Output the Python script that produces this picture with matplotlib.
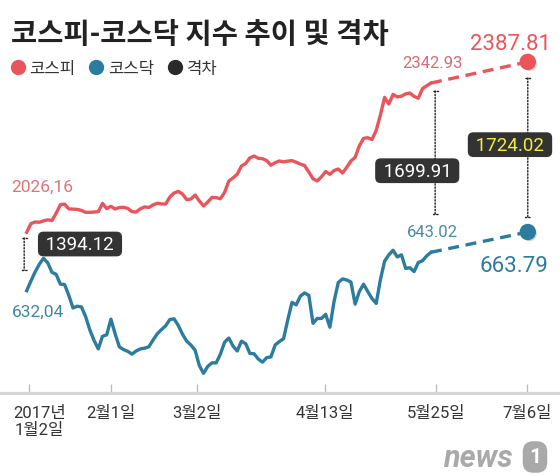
import numpy as np
import matplotlib.pyplot as plt
import matplotlib.patheffects as pe
import matplotlib.transforms as mtransforms
from matplotlib.lines import Line2D
from matplotlib.patches import ConnectionPatch

plt.rcParams['font.family'] = ['Roboto', 'Noto Sans CJK KR', 'DejaVu Sans']

# data (one value per trading session, 2017-01-02 .. 2017-05-25)
title = "코스피-코스닥 지수 추이 및 격차"
series_names = ["코스피", "코스닥", "격차"]

kospi = [2026.16, 2044.6, 2048.0, 2047.6, 2050.4, 2052.7, 2051.2, 2066.7, 2084.9, 2086.0,
         2075.8, 2075.4, 2074.8, 2072.6, 2068.6, 2068.6, 2069.2, 2069.9, 2087.5, 2076.4,
         2081.3, 2075.6, 2078.8, 2079.2, 2076.9, 2070.1, 2069.2, 2076.0, 2080.1, 2078.8,
         2084.1, 2087.9, 2086.4, 2086.2, 2101.1, 2109.5, 2112.9, 2107.4, 2095.5, 2096.8,
         2105.3, 2092.6, 2082.0, 2090.4, 2100.4, 2099.6, 2097.4, 2110.8, 2135.0, 2141.6,
         2149.4, 2166.8, 2172.1, 2184.2, 2188.0, 2183.2, 2182.5, 2178.3, 2168.5, 2173.8,
         2177.6, 2175.5, 2177.2, 2178.3, 2174.9, 2170.9, 2167.7, 2154.1, 2139.7, 2135.2,
         2143.9, 2155.2, 2149.2, 2157.3, 2160.5, 2152.0, 2163.9, 2177.4, 2185.3, 2209.7,
         2225.4, 2226.9, 2223.1, 2242.2, 2275.1, 2312.4, 2298.4, 2318.8, 2313.5, 2315.0,
         2319.9, 2321.6, 2314.5, 2310.7, 2331.1, 2337.0, 2342.93]

kosdaq = [632.04, 634.8, 637.4, 639.6, 641.3, 640.0, 637.3, 636.7, 633.9, 633.8,
          630.7, 627.1, 627.6, 627.4, 624.6, 620.8, 617.8, 615.4, 619.0, 619.4,
          623.9, 619.7, 616.0, 615.2, 614.7, 613.9, 614.8, 615.4, 615.6, 616.0,
          617.9, 619.7, 620.9, 622.0, 623.8, 624.0, 622.1, 619.6, 617.6, 616.5,
          615.0, 610.6, 608.4, 610.4, 611.4, 611.4, 613.9, 617.3, 618.5, 616.2,
          614.8, 617.6, 616.9, 614.1, 614.0, 612.5, 611.6, 612.9, 613.1, 616.5,
          617.5, 618.3, 623.7, 628.7, 628.0, 630.5, 631.4, 630.7, 622.7, 624.1,
          624.1, 625.3, 621.6, 629.0, 634.4, 635.4, 635.1, 634.5, 628.2, 631.8,
          633.9, 631.8, 629.8, 628.4, 635.2, 640.5, 642.3, 643.6, 641.7, 642.3,
          638.4, 638.6, 637.5, 640.1, 640.6, 642.0, 643.02]

# July 6 forecast points
kospi_jul6 = 2387.81
kosdaq_jul6 = 663.79
jul6_session = 119

tick_sessions = [0.5, 20, 40.4, 70.8, 97.2, 118.8]
tick_labels = ["2017년\n1월2일", "2월1일", "3월2일", "4월13일", "5월25일", "7월6일"]

RED = "#e9555b"
BLUE = "#2b7c9e"
DARK = "#333333"

sessions = np.arange(len(kospi))
last = sessions[-1]

fig = plt.figure(figsize=(5.6, 4.77), dpi=100)
ax = fig.add_axes([0, 0, 1, 1])
ax_kq = ax.twinx()
ax_proj = ax.twinx()

ax.set_xlim(-6.34, 126.65)
ax.set_ylim(1509.1, 2521.2)
ax_kq.set_ylim(579.05, 715.45)
ax_proj.set_ylim(414.06, 902.28)

for a in (ax, ax_kq, ax_proj):
    for s in ('top', 'left', 'right'):
        a.spines[s].set_visible(False)
    a.set_yticks([])
for a in (ax_kq, ax_proj):
    a.spines['bottom'].set_visible(False)
    a.patch.set_visible(False)
    a.tick_params(axis='x', bottom=False, labelbottom=False)

ax.spines['bottom'].set_position(('axes', 1 - 394 / 477))
ax.spines['bottom'].set_color('#d6d6d6')
ax.spines['bottom'].set_linewidth(2.3)
ax.set_xticks(tick_sessions)
ax.set_xticklabels(tick_labels, linespacing=1.15)
ax.tick_params(axis='x', direction='in', length=6.5, width=1, color='#bdbdbd',
               pad=9, labelsize=12, labelcolor='#333333')
first = ax.xaxis.get_major_ticks()[0].label1
first.set_transform(first.get_transform() +
                    mtransforms.ScaledTranslation(0.11, 0, fig.dpi_scale_trans))

# lines
ax.plot(sessions, kospi, color=RED, lw=2.4, solid_joinstyle='round', zorder=3)
ax_kq.plot(sessions, kosdaq, color=BLUE, lw=2.4, solid_joinstyle='round', zorder=3)
ax.plot([last, jul6_session], [kospi[-1], kospi_jul6], color=RED, lw=2.4,
        dashes=(3.3, 2.0), zorder=3)
ax_proj.plot([last, jul6_session], [kosdaq[-1], kosdaq_jul6], color=BLUE, lw=2.4,
             dashes=(3.3, 2.0), zorder=3)

shadow = [pe.SimplePatchShadow(offset=(1.2, -1.2), shadow_rgbFace='#888888', alpha=0.35),
          pe.Normal()]
ax.plot(jul6_session, kospi_jul6, 'o', ms=10.8, color=RED, mec=RED, zorder=4,
        path_effects=shadow)
ax_proj.plot(jul6_session, kosdaq_jul6, 'o', ms=10.8, color=BLUE, mec=BLUE, zorder=4,
             path_effects=shadow)

# gap markers (dotted, capped)
gaps = [(-0.6, kospi[0], ax_kq, kosdaq[0], 4.1, 14.9),
        (97, kospi[-1], ax_kq, kosdaq[-1], 5.8, 27.6),
        (jul6_session, kospi_jul6, ax_proj, kosdaq_jul6, 11.6, 11.0)]
for gx, top, low_ax, low, sa, sb in gaps:
    con = ConnectionPatch((gx, top), (gx, low), coordsA=ax.transData,
                          coordsB=low_ax.transData, arrowstyle='|-|,widthA=0.18,widthB=0.18',
                          linestyle=(0, (1, 1.3)), lw=1.0, color='#222222',
                          shrinkA=sa, shrinkB=sb, zorder=2)
    ax.add_artist(con)


def label(xy, trans, text, dx, dy, **kw):
    # dx, dy in pixels, dy positive upward
    ax_proj.annotate(text, xy, xycoords=trans, xytext=(dx * 0.72, dy * 0.72),
                     textcoords='offset points', ha='center', va='baseline',
                     zorder=6, **kw)


box = dict(boxstyle='round,pad=0.18,rounding_size=0.3', fc='#333333', ec='none')

label((0, kospi[0]), ax.transData, f"{kospi[0]:.2f}".replace('.', ','), 16, 41,
      fontsize=12.5, color='#e07276')
label((0, kosdaq[0]), ax_kq.transData, f"{kosdaq[0]:.2f}".replace('.', ','), 11, -25.5,
      fontsize=12.5, color='#3f86a6')
label((last, kospi[-1]), ax.transData, f"{kospi[-1]:.2f}", 2, 15.7,
      fontsize=12, color='#d96a71')
label((last, kosdaq[-1]), ax_kq.transData, f"{kosdaq[-1]:.2f}", 1.5, 16.6,
      fontsize=12, color='#4a8aa8')
label((jul6_session, kospi_jul6), ax.transData, f"{kospi_jul6:.2f}", -17.5, 13,
      fontsize=16, color=RED)
label((jul6_session, kosdaq_jul6), ax_proj.transData, f"{kosdaq_jul6:.2f}", -14, -39.4,
      fontsize=16, color=BLUE)

label((0, kospi[0]), ax.transData, f" {kospi[0] - kosdaq[0]:.2f} ", 53.3, -16.7,
      fontsize=13.5, color='white', bbox=box)
label((last, kospi[-1]), ax.transData, f" {kospi[-1] - kosdaq[-1]:.2f} ", -13.7, -92.7,
      fontsize=13.5, color='white', bbox=box)
label((jul6_session, kospi_jul6), ax.transData, f" {kospi_jul6 - kosdaq_jul6:.2f} ",
      -17.8, -87.8, fontsize=13.5, color='#f3ee3a', bbox=box)

# legend
handles = [Line2D([], [], marker='o', ls='', color=c, ms=10)
           for c in (RED, BLUE, '#2a2a2a')]
ax.legend(handles, series_names, loc='upper left', bbox_to_anchor=(12 / 560, 1 - 62 / 477),
          ncol=3, frameon=False, fontsize=12, handlelength=0.7, handletextpad=0.35,
          columnspacing=0.9, borderaxespad=0, borderpad=0, labelcolor='#333333')

fig.text(11 / 560, 1 - 43 / 477, title, fontsize=20.5, fontweight='bold', color='#222222',
         va='baseline', family=['Noto Sans CJK KR'])

# news1 mark
fig.text(443 / 560, 1 - 467 / 477, "news", fontsize=22, fontstyle='italic',
         fontweight='bold', color='#a9a9a9', va='baseline')
fig.text(535 / 560, 1 - 458 / 477, "1", fontsize=15, fontweight='bold', color='white',
         ha='center', va='center',
         bbox=dict(boxstyle='round,pad=0.3,rounding_size=0.5', fc='#a9a9a9', ec='none'))

fig.savefig('out.png', dpi=100)
